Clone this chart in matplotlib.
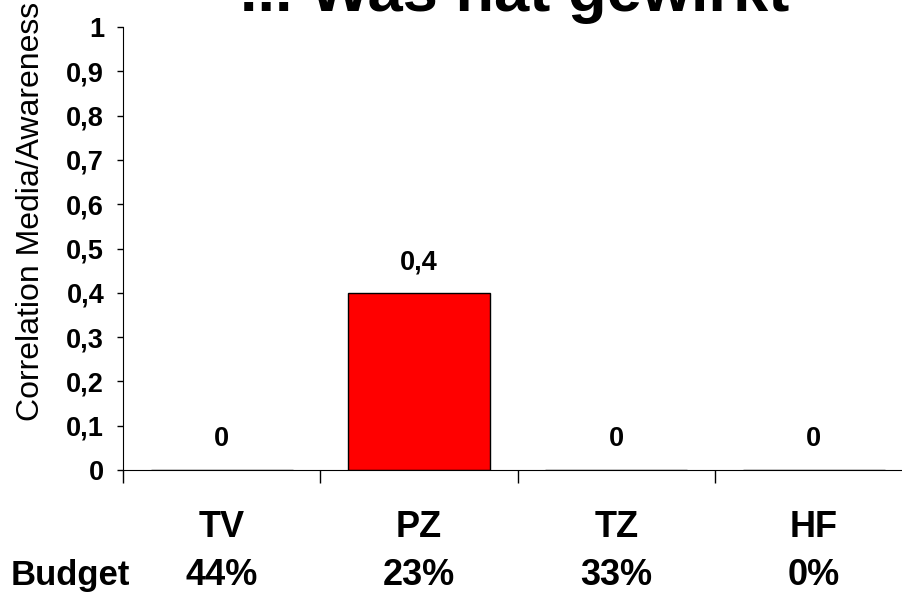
import matplotlib
matplotlib.use("Agg")
import matplotlib.pyplot as plt
from matplotlib.ticker import FuncFormatter

# chart data
categories = ["TV", "PZ", "TZ", "HF"]
correlation = [0.0, 0.4, 0.0, 0.0]
budget = ["44%", "23%", "33%", "0%"]
value_labels = ["0", "0,4", "0", "0"]

FONT = ["Liberation Sans", "DejaVu Sans"]
plt.rcParams["font.family"] = FONT


def comma_fmt(v, _pos):
    s = f"{v:.1f}".replace(".", ",")
    return s[:-2] if s.endswith(",0") else s


fig = plt.figure(figsize=(9.03, 5.95), dpi=100)
ax = fig.add_axes([0.1362, 0.21, 0.874, 0.7445])

x = list(range(len(categories)))
ax.bar(x, correlation, width=0.72, color="#FF0000", edgecolor="black", linewidth=1.0)

for xi, v, lab in zip(x, correlation, value_labels):
    ax.text(xi, v + 0.04, lab, ha="center", va="bottom", fontsize=19.5, fontweight="bold")

ax.set_xlim(-0.5, 3.5)
ax.set_ylim(0, 1)
ax.set_yticks([i / 10 for i in range(11)])
ax.yaxis.set_major_formatter(FuncFormatter(comma_fmt))
ax.set_xticks([-0.5, 0.5, 1.5, 2.5])
ax.set_xticklabels([])
ax.tick_params(axis="x", direction="out", length=9, width=1.0)
ax.tick_params(axis="y", direction="out", length=4.5, width=1.0, pad=9, labelsize=19.5)
for lab in ax.get_yticklabels():
    lab.set_fontweight("bold")

ax.spines["top"].set_visible(False)
ax.spines["right"].set_visible(False)

# category names and budget shares under each group
for xi, cat, b in zip(x, categories, budget):
    fx = fig.transFigure.inverted().transform(ax.transData.transform((xi, 0)))[0]
    fig.text(fx, 0.114, cat, ha="center", va="center", fontsize=26, fontweight="bold")
    fig.text(fx, 0.032, b, ha="center", va="center", fontsize=26, fontweight="bold")

fig.text(0.012, 0.032, "Budget", ha="left", va="center", fontsize=25, fontweight="bold")

fig.text(0.034, 0.644, "Correlation Media/Awareness", rotation=90,
         ha="center", va="center", fontsize=23)

fig.text(0.57, 0.9815, "... Was hat gewirkt", ha="center", va="baseline",
         fontsize=45.5, fontweight="bold")

fig.savefig("out.png", dpi=100)
